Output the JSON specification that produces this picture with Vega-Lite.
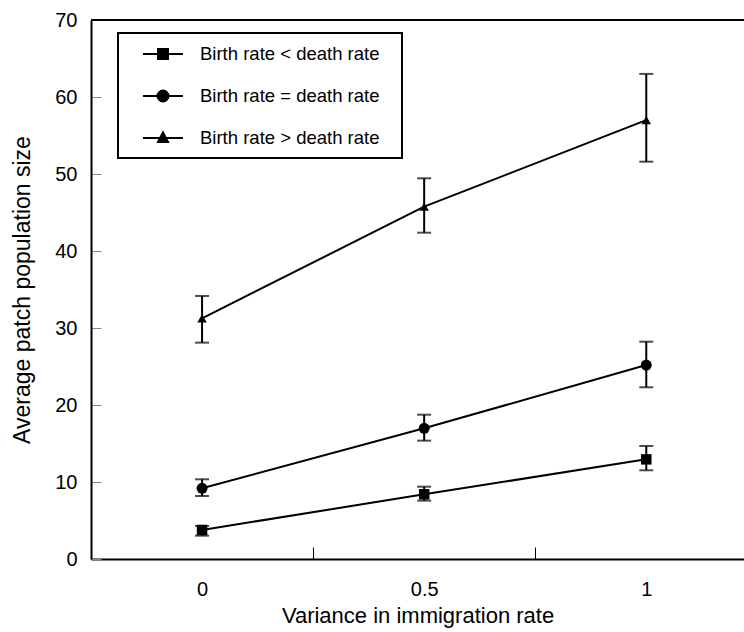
{
  "$schema": "https://vega.github.io/schema/vega-lite/v6.json",
  "width": 653,
  "height": 539,
  "autosize": "none",
  "padding": {"left": 91, "top": 20, "right": 0, "bottom": 73},
  "background": "white",
  "config": {
    "view": {"stroke": null},
    "font": "Liberation Sans",
    "axis": {
      "domainColor": "black",
      "domainWidth": 2,
      "labelColor": "black",
      "titleColor": "black",
      "labelFontSize": 20,
      "titleFontSize": 22,
      "titleFontWeight": "normal",
      "grid": false
    }
  },
  "data": {
    "values": [
      {"group": "Birth rate < death rate", "x": 0, "y": 3.77, "lo": 3.03, "hi": 4.29},
      {"group": "Birth rate < death rate", "x": 0.5, "y": 8.4, "lo": 7.58, "hi": 9.39},
      {"group": "Birth rate < death rate", "x": 1, "y": 12.94, "lo": 11.52, "hi": 14.68},
      {"group": "Birth rate = death rate", "x": 0, "y": 9.18, "lo": 8.18, "hi": 10.35},
      {"group": "Birth rate = death rate", "x": 0.5, "y": 16.97, "lo": 15.37, "hi": 18.74},
      {"group": "Birth rate = death rate", "x": 1, "y": 25.19, "lo": 22.3, "hi": 28.22},
      {"group": "Birth rate > death rate", "x": 0, "y": 31.26, "lo": 28.1, "hi": 34.16},
      {"group": "Birth rate > death rate", "x": 0.5, "y": 45.76, "lo": 42.38, "hi": 49.44},
      {"group": "Birth rate > death rate", "x": 1, "y": 57.0, "lo": 51.6, "hi": 63.0}
    ]
  },
  "layer": [
    {
      "mark": {"type": "line", "strokeWidth": 2},
      "encoding": {
        "x": {
          "field": "x",
          "type": "quantitative",
          "scale": {"domain": [-0.25, 1.22], "nice": false, "zero": false},
          "axis": {
            "title": "Variance in immigration rate",
            "values": [0, 0.25, 0.5, 0.75, 1],
            "format": "~g",
            "labelExpr": "datum.value == 0.25 || datum.value == 0.75 ? '' : datum.label",
            "tickSize": -12,
            "tickColor": "black",
            "tickWidth": 1,
            "tickOpacity": {"condition": {"test": "datum.value == 0.25 || datum.value == 0.75", "value": 1}, "value": 0},
            "labelPadding": 32,
            "titlePadding": 6
          }
        },
        "y": {
          "field": "y",
          "type": "quantitative",
          "title": "Average patch population size",
          "scale": {"domain": [0, 70], "nice": false},
          "axis": {
            "values": [0, 10, 20, 30, 40, 50, 60, 70],
            "tickSize": -10,
            "tickColor": "#888888",
            "tickWidth": 1,
            "labelPadding": 24,
            "titlePadding": 20,
            "titleFontSize": 23
          }
        },
        "color": {
          "field": "group",
          "type": "nominal",
          "scale": {
            "domain": ["Birth rate < death rate", "Birth rate = death rate", "Birth rate > death rate"],
            "range": ["black", "black", "black"]
          },
          "legend": {
            "title": ".",
            "titleOrient": "right",
            "titleColor": "white",
            "titleFontSize": 10,
            "titlePadding": 10,
            "orient": "none",
            "legendX": 27,
            "legendY": 13,
            "strokeColor": "black",
            "padding": 10,
            "labelFontSize": 18.5,
            "labelColor": "black",
            "labelLimit": 400,
            "symbolOffset": 24,
            "labelOffset": 26,
            "rowPadding": 21,
            "symbolSize": 400,
            "symbolStrokeWidth": 2,
            "encode": {
              "legend": {"update": {"strokeWidth": {"value": 2}}},
              "symbols": {
                "update": {
                  "shape": {"signal": "datum.value === 'Birth rate < death rate' ? 'M-2,0H2M-0.5,-0.5H0.5V0.5H-0.5Z' : datum.value === 'Birth rate = death rate' ? 'M-2,0H2M0.55,0A0.55,0.55 0 1,1 -0.55,0A0.55,0.55 0 1,1 0.55,0Z' : 'M-2,0H2M0,-0.55L0.5,0.4L-0.5,0.4Z'"},
                  "fill": {"value": "black"},
                  "stroke": {"value": "black"},
                  "strokeWidth": {"value": 2},
                  "opacity": {"value": 1}
                }
              }
            }
          }
        }
      }
    },
    {
      "mark": {
        "type": "errorbar",
        "color": "black",
        "rule": {"strokeWidth": 2},
        "ticks": {"size": 14, "thickness": 2, "color": "black"}
      },
      "encoding": {
        "x": {"field": "x", "type": "quantitative"},
        "y": {"field": "lo", "type": "quantitative", "title": "Average patch population size"},
        "y2": {"field": "hi"}
      }
    },
    {
      "transform": [{"filter": "datum.group === 'Birth rate < death rate'"}],
      "mark": {"type": "point", "shape": "square", "filled": true, "color": "black", "opacity": 1, "size": 110},
      "encoding": {
        "x": {"field": "x", "type": "quantitative"},
        "y": {"field": "y", "type": "quantitative", "title": "Average patch population size"}
      }
    },
    {
      "transform": [{"filter": "datum.group === 'Birth rate = death rate'"}],
      "mark": {"type": "point", "shape": "circle", "filled": true, "color": "black", "opacity": 1, "size": 120},
      "encoding": {
        "x": {"field": "x", "type": "quantitative"},
        "y": {"field": "y", "type": "quantitative", "title": "Average patch population size"}
      }
    },
    {
      "transform": [{"filter": "datum.group === 'Birth rate > death rate'"}],
      "mark": {"type": "point", "shape": "triangle-up", "filled": true, "color": "black", "opacity": 1, "size": 90},
      "encoding": {
        "x": {"field": "x", "type": "quantitative"},
        "y": {"field": "y", "type": "quantitative", "title": "Average patch population size"}
      }
    },
    {
      "mark": {"type": "rule", "strokeWidth": 2, "color": "black"},
      "encoding": {"y": {"datum": 70}}
    }
  ]
}
